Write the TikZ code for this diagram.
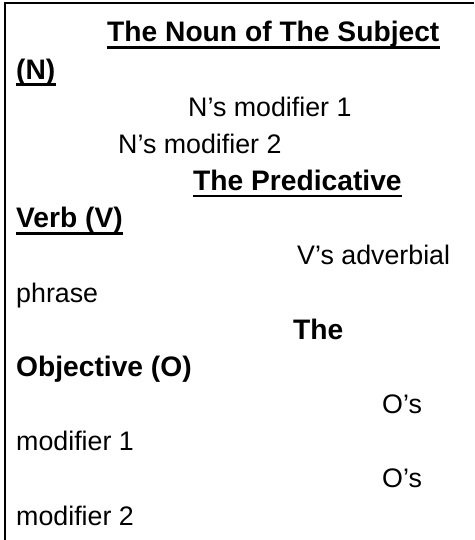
\documentclass[tikz,border=0pt]{standalone}
\usepackage{fontspec}
\setmainfont{Liberation Sans}
\begin{document}
\begin{tikzpicture}[x=1pt,y=-1pt,
  txt/.style={anchor=base west,inner sep=0pt,font=\fontsize{26.8}{27}\selectfont},
  btxt/.style={txt,font=\fontsize{28.2}{28}\selectfont\bfseries},
  uline/.style={line width=2.6pt},
  frame/.style={line width=2pt}]
\useasboundingbox (0,0) rectangle (474,540);
\draw[frame] (4.5,540) -- (4.5,3) -- (474,3);
\node[btxt] (t1) at (107,42) {The Noun of The Subject};
\node[btxt] (t2) at (16,79.2) {(N)};
\node[txt] (t3) at (188,116.3) {N’s modifier 1};
\node[txt] (t4) at (118,153.5) {N’s modifier 2};
\node[btxt] (t5) at (193,190.6) {The Predicative};
\node[btxt] (t6) at (16,227.8) {Verb (V)};
\node[txt] (t7) at (297,264.9) {V’s adverbial};
\node[txt] (t8) at (16,302) {phrase};
\node[btxt] (t9) at (293,339.2) {The};
\node[btxt] (t10) at (16,376.4) {Objective (O)};
\node[txt] (t11) at (382,413.5) {O’s};
\node[txt] (t12) at (16,450.7) {modifier 1};
\node[txt] (t13) at (382,487.8) {O’s};
\node[txt] (t14) at (16,525) {modifier 2};
\foreach \n in {t1,t2,t5,t6}
  \draw[uline] ([yshift=-5.5pt]\n.base west) -- ([yshift=-5.5pt]\n.base east);
\end{tikzpicture}
\end{document}
